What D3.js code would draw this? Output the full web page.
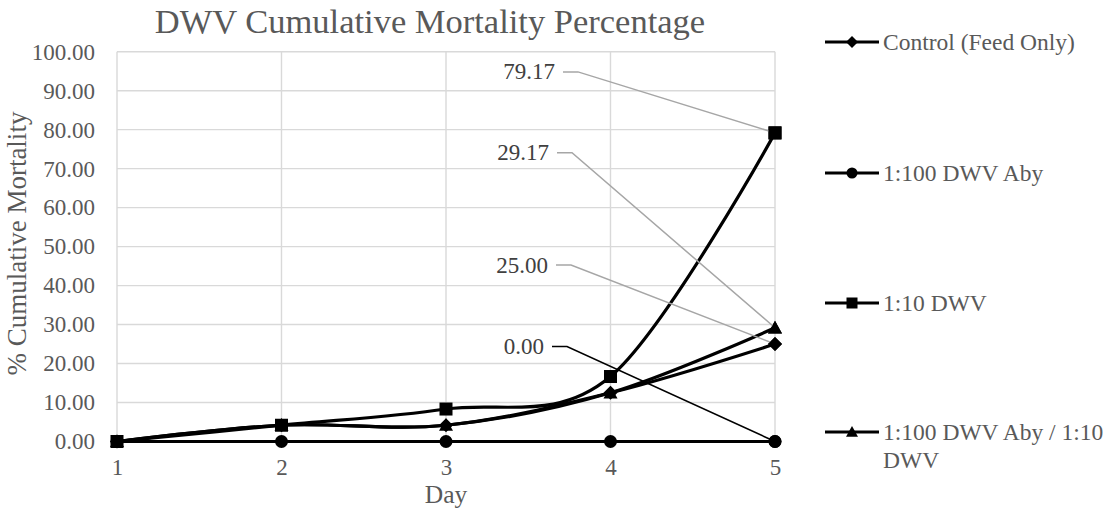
<!DOCTYPE html>
<html><head><meta charset="utf-8">
<script src="https://cdn.jsdelivr.net/npm/d3@7"></script>
<style>
body{margin:0;background:#fff;}
text{font-family:"Liberation Serif","Times New Roman",serif;}
</style></head>
<body><svg id="c" width="1117" height="510"></svg>
<script>
// ---- data ----
const days = [1, 2, 3, 4, 5];
const seriesNames = ["Control (Feed Only)", "1:100 DWV Aby", "1:10 DWV", "1:100 DWV Aby / 1:10 DWV"];
const controlValues = [0, 4.17, 4.17, 12.5, 25.00];
const abyValues = [0, 0, 0, 0, 0];
const dwv10Values = [0, 4.17, 8.33, 16.67, 79.17];
const abyDwvValues = [0, 4.17, 4.17, 12.5, 29.17];
const yTicks = [0, 10, 20, 30, 40, 50, 60, 70, 80, 90, 100];
const markerTypes = ["diamond", "circle", "square", "triangle"];
const titleText = "DWV Cumulative Mortality Percentage";
const xTitle = "Day";
const yTitle = "% Cumulative Mortality";

const allValues = [controlValues, abyValues, dwv10Values, abyDwvValues];

// ---- layout ----
const svg = d3.select("#c");
const L = 117, R = 775, T = 51.7, B = 441.5;
const x = d3.scaleLinear().domain([1, 5]).range([L, R]);
const y = d3.scaleLinear().domain([0, 100]).range([B, T]);
const grid = "#d9d9d9", txt = "#595959";

// gridlines
svg.append("g").selectAll("line").data(yTicks).join("line")
  .attr("x1", L).attr("x2", R).attr("y1", d => y(d)).attr("y2", d => y(d))
  .attr("stroke", grid).attr("stroke-width", 1.4);
svg.append("g").selectAll("line").data(days).join("line")
  .attr("x1", d => x(d)).attr("x2", d => x(d)).attr("y1", T).attr("y2", B)
  .attr("stroke", grid).attr("stroke-width", 1.4);

// axes
const yAxis = d3.axisLeft(y).tickValues(yTicks).tickFormat(d3.format(".2f")).tickSize(0).tickPadding(22);
const gy = svg.append("g").attr("transform", `translate(${L},0)`).call(yAxis);
gy.select(".domain").remove();
gy.selectAll("text").attr("font-size", 23).attr("fill", txt)
  .style("font-family", '"Liberation Serif",serif');

const xAxis = d3.axisBottom(x).tickValues(days).tickFormat(d3.format("d")).tickSize(0).tickPadding(17);
const gx = svg.append("g").attr("transform", `translate(0,${B})`).call(xAxis);
gx.select(".domain").remove();
gx.selectAll("text").attr("font-size", 23).attr("fill", txt)
  .style("font-family", '"Liberation Serif",serif');

// titles
svg.append("text").attr("x", 430).attr("y", 33).attr("text-anchor", "middle")
  .attr("font-size", 34.5).attr("fill", txt).text(titleText);
svg.append("text").attr("x", (L + R) / 2).attr("y", 503).attr("text-anchor", "middle")
  .attr("font-size", 25.5).attr("fill", txt).text(xTitle);
svg.append("text").attr("transform", `translate(26,${(T + B) / 2 - 3}) rotate(-90)`)
  .attr("text-anchor", "middle").attr("font-size", 27).attr("fill", txt).text(yTitle);

// markers
function marker(g, type, cx, cy, s) {
  if (type === "circle") g.append("circle").attr("cx", cx).attr("cy", cy).attr("r", s / 2);
  else if (type === "square") g.append("rect").attr("x", cx - s / 2).attr("y", cy - s / 2).attr("width", s).attr("height", s);
  else if (type === "diamond") {
    const h = s / 2 + 0.5;
    g.append("path").attr("d", `M${cx},${cy - h}L${cx + h},${cy}L${cx},${cy + h}L${cx - h},${cy}Z`);
  } else if (type === "triangle") {
    const h = s / 2 + 0.5;
    g.append("path").attr("d", `M${cx},${cy - h}L${cx + h},${cy + h * 0.8}L${cx - h},${cy + h * 0.8}Z`);
  }
}

const line = d3.line().x((d, i) => x(days[i])).y(d => y(d)).curve(d3.curveCardinal.tension(0));

// series lines
allValues.forEach((vals, si) => {
  svg.append("path").attr("d", line(vals)).attr("fill", "none")
    .attr("stroke", "#000").attr("stroke-width", 3.2).attr("stroke-linejoin", "round");
});
allValues.forEach((vals, si) => {
  const g = svg.append("g").attr("fill", "#000");
  vals.forEach((v, i) => marker(g, markerTypes[si], x(days[i]), y(v), 13));
});

// data labels at day 5 (label anchor offsets relative to the point)
const labelOffsets = [
  { s: 0, dx: -227, dy: -79, color: "#a6a6a6" },
  { s: 1, dx: -231, dy: -95, color: "#000000" },
  { s: 2, dx: -220, dy: -61, color: "#a6a6a6" },
  { s: 3, dx: -226, dy: -175, color: "#a6a6a6" }
];
labelOffsets.forEach(o => {
  const v = allValues[o.s][4];
  const px = x(days[4]), py = y(v);
  const lx = px + o.dx, ly = py + o.dy;
  svg.append("path")
    .attr("d", `M${lx + 8},${ly}L${lx + 23},${ly}L${px},${py}`)
    .attr("fill", "none").attr("stroke", o.color).attr("stroke-width", o.color === "#000000" ? 1.6 : 1.5);
  svg.append("text").attr("x", lx).attr("y", ly).attr("dy", "0.33em").attr("text-anchor", "end")
    .attr("font-size", 23).attr("fill", "#404040").text(d3.format(".2f")(v));
});
// redraw day-5 markers on top of leaders
allValues.forEach((vals, si) => {
  const g = svg.append("g").attr("fill", "#000");
  marker(g, markerTypes[si], x(days[4]), y(vals[4]), 13);
});

// legend
const legY = [42, 173, 303, 432];
seriesNames.forEach((name, i) => {
  const g = svg.append("g");
  g.append("line").attr("x1", 825).attr("x2", 879).attr("y1", legY[i]).attr("y2", legY[i])
    .attr("stroke", "#000").attr("stroke-width", 3.2);
  marker(g.append("g").attr("fill", "#000"), markerTypes[i], 852, legY[i], 11);
  const t = g.append("text").attr("x", 883).attr("y", legY[i]).attr("dy", "0.33em")
    .attr("font-size", 23.5).attr("fill", txt);
  if (name.length > 20) {
    const parts = ["1:100 DWV Aby / 1:10", "DWV"];
    t.append("tspan").attr("x", 883).text(parts[0]);
    t.append("tspan").attr("x", 883).attr("dy", 28).text(parts[1]);
  } else t.text(name);
});
</script></body></html>
